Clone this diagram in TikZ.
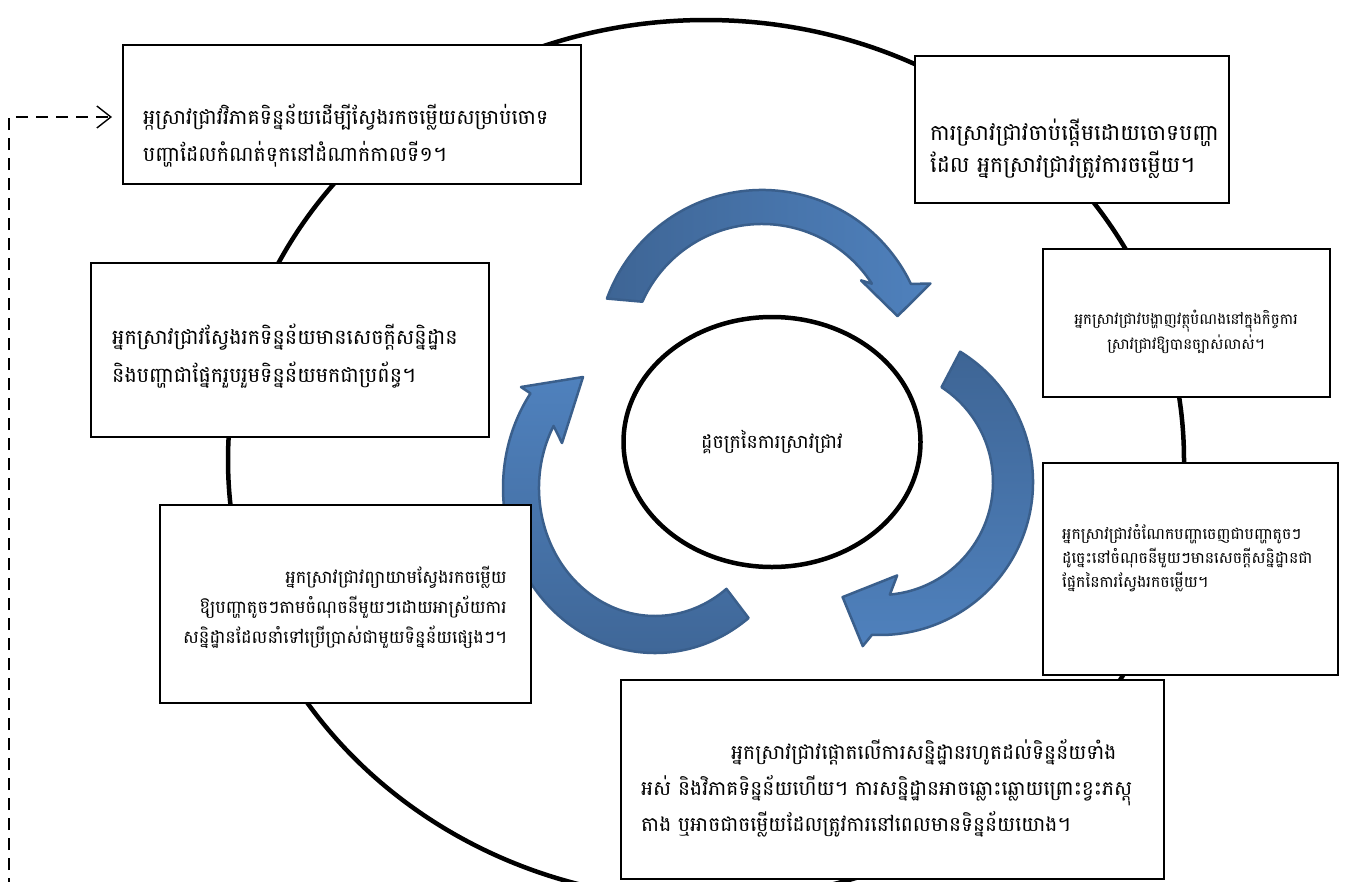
\documentclass[tikz,border=0pt]{standalone}
\usepackage{fontspec}
\newfontfamily\km[Script=Khmer]{Battambang}
\usetikzlibrary{calc,shapes.geometric,arrows.meta}
\definecolor{bdark}{HTML}{3E6595}
\definecolor{blight}{HTML}{4F81BD}
\definecolor{bedge}{HTML}{3A5F8C}
\tikzset{
  box/.style={draw=black, line width=1.2pt, fill=white, rectangle, inner sep=0pt},
  txt/.style={inner sep=0pt, font=\km},
  cyc/.style={draw=bedge, line width=2.5pt, line join=round},
}
\begin{document}
\begin{tikzpicture}[x=1pt,y=-1pt]
\useasboundingbox (0,0) rectangle (1349,881);
\clip (0,0) rectangle (1349,881);
\fill[white] (0,0) rectangle (1349,881);
% big cycle
\draw[line width=4.5pt] (706,460) ellipse [x radius=478, y radius=440];
% blue arrows
\coordinate (ca) at (762,355);
\coordinate (cb) at (880,482);
\coordinate (cc) at (655,488);
\path[cyc, left color=bdark, right color=blight]
  ($(ca)+(200:165)$) arc[start angle=200, end angle=334.5, radius=165]
  -- ($(ca)+(337:183)$) -- ($(ca)+(344:141)$) -- ($(ca)+(323:124)$)
  -- ($(ca)+(327:131)$) arc[start angle=327, end angle=204, radius=131] -- cycle;
\path[cyc, top color=bdark, bottom color=blight]
  ($(cb)+(301.6:153)$) arc[start angle=301.6, end angle=453, radius=153]
  -- ($(cb)+(456:165)$) -- ($(cb)+(468:121)$) -- ($(cb)+(439.6:95)$)
  -- ($(cb)+(445:113)$) arc[start angle=445, end angle=303, radius=113] -- cycle;
\path[cyc, bottom color=bdark, top color=blight]
  ($(cc)+(52:152 and 165)$) arc[start angle=52, end angle=215, x radius=152, y radius=165]
  -- (521,387) -- (583,377) -- (562,443)
  -- ($(cc)+(209:116 and 128)$) arc[start angle=209, end angle=52, x radius=116, y radius=128] -- cycle;
% boxes
\node[box, minimum width=458, minimum height=139] (b1) at (352,114.5) {};
\node[box, minimum width=314, minimum height=147] (b2) at (1072,129.5) {};
\node[box, minimum width=287, minimum height=148] (b3) at (1186.5,323) {};
\node[box, minimum width=398, minimum height=174] (b4) at (290,350) {};
\node[box, minimum width=371, minimum height=198] (b5) at (345.5,604) {};
\node[box, minimum width=295, minimum height=212] (b6) at (1190.5,569) {};
\node[box, minimum width=543, minimum height=199] (b7) at (892.5,779.5) {};
% texts
\node[txt, anchor=west, align=left, font=\km\fontsize{20.6}{37}\selectfont] (t1) at (143,136)
  {អ្កស្រាវជ្រាវវិភាគទិន្នន័យដើម្បីស្វែងរកចម្លើយសម្រាប់ចោទ\\បញ្ហាដែលកំណត់ទុកនៅដំណាក់កាលទី១។};
\node[txt, anchor=west, align=left, font=\km\fontsize{22}{32}\selectfont] (t2) at (930,149)
  {ការស្រាវជ្រាវចាប់ផ្ដើមដោយចោទបញ្ហា\\ដែល អ្នកស្រាវជ្រាវត្រូវការចម្លើយ។};
\node[txt, align=center, font=\km\fontsize{15}{25}\selectfont] (t3) at (1186,332)
  {អ្នកស្រាវជ្រាវបង្ហាញវត្ថុបំណងនៅក្នុងកិច្ចការ\\ស្រាវជ្រាវឱ្យបានច្បាស់លាស់។};
\node[txt, anchor=west, align=left, font=\km\fontsize{20.7}{38}\selectfont] (t4) at (112,356)
  {អ្នកស្រាវជ្រាវស្វែងរកទិន្នន័យមានសេចក្ដីសន្និដ្ឋាន\\និងបញ្ហាជាផ្នែករួបរួមទិន្នន័យមកជាប្រព័ន្ធ។};
\node[txt, anchor=east, align=right, font=\km\fontsize{17.7}{30}\selectfont] (t5) at (507,607)
  {អ្នកស្រាវជ្រាវព្យាយាមស្វែងរកចម្លើយ\\ឱ្យបញ្ហាតូចៗតាមចំណុចនីមួយៗដោយអាស្រ័យការ\\សន្និដ្ឋានដែលនាំទៅប្រើប្រាស់ជាមួយទិន្នន័យផ្សេងៗ។};
\node[txt, anchor=west, align=left, font=\km\fontsize{15.7}{24}\selectfont] (t6) at (1062,558)
  {អ្នកស្រាវជ្រាវចំណែកបញ្ហាចេញជាបញ្ហាតូចៗ\\ដូច្នេះនៅចំណុចនីមួយៗមានសេចក្ដីសន្និដ្ឋានជា\\ផ្នែកនៃការស្វែងរកចម្លើយ។};
\node[txt, anchor=west, align=left, font=\km\fontsize{20.2}{36}\selectfont] (t7) at (641,788)
  {\hspace*{90pt}អ្នកស្រាវជ្រាវផ្ដោតលើការសន្និដ្ឋានរហូតដល់ទិន្នន័យទាំង\\អស់ និងវិភាគទិន្នន័យហើយ។ ការសន្និដ្ឋានអាចឆ្លោះឆ្លោយព្រោះខ្វះភស្តុ\\តាង ឬអាចជាចម្លើយដែលត្រូវការនៅពេលមានទិន្នន័យយោង។};
% centre
\node[ellipse, draw=black, line width=4.5pt, fill=white, minimum width=297, minimum height=250, inner sep=0pt, font=\km\fontsize{19}{22}\selectfont] (c) at (772,442) {ដ្គចក្រនៃការស្រាវជ្រាវ};
% dashed return
\coordinate (d0) at (9,890);
\coordinate (d1) at (9,117);
\coordinate (d2) at (112,117);
\draw[line width=1.4pt, dash pattern=on 12pt off 8pt, -{Straight Barb[length=14pt,width=22pt,line width=1.4pt]}]
  (d0) -- (d1) -- (d2);
\end{tikzpicture}
\end{document}
